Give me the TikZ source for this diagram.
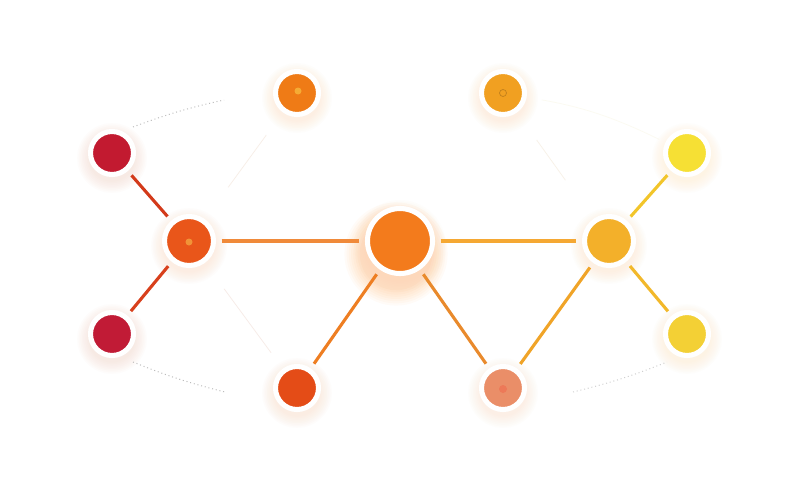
\documentclass[tikz,border=0pt]{standalone}
\usetikzlibrary{calc}
\definecolor{cTL}{HTML}{C21A30}
\definecolor{cBL}{HTML}{C11B36}
\definecolor{cL}{HTML}{E9561A}
\definecolor{cT}{HTML}{EF7B16}
\definecolor{cB}{HTML}{E44C17}
\definecolor{cC}{HTML}{F37B1C}
\definecolor{cTR}{HTML}{F1A021}
\definecolor{cBM}{HTML}{EA8E68}
\definecolor{cR}{HTML}{F3B02A}
\definecolor{cRT}{HTML}{F6E034}
\definecolor{cRB}{HTML}{F3D035}
\definecolor{eTL}{HTML}{D33A1A}
\definecolor{eBL}{HTML}{D8401C}
\definecolor{eLC}{HTML}{F08A3A}
\definecolor{eCR}{HTML}{F5A833}
\definecolor{eCB}{HTML}{EE7E22}
\definecolor{eCM}{HTML}{E98A2C}
\definecolor{eMR}{HTML}{F0A428}
\definecolor{eRT}{HTML}{F2C52A}
\definecolor{eRB}{HTML}{F2B82A}
\pgfdeclarelayer{glow}
\pgfdeclarelayer{edges}
\pgfsetlayers{glow,edges,main}
\newcommand\putnode[5]{%
  \begin{pgfonlayer}{glow}
    \foreach \k in {1,...,8}{\fill[#5!45!orange!30, opacity=0.05] (#2,#3+5) circle ({#4+3+\k*1.6});}
  \end{pgfonlayer}
  \node[hubdot, fill=#5, minimum size={(2*#4+5)*0.7113pt}] (#1) at (#2,#3) {};
}
\tikzset{
  hubdot/.style={circle, inner sep=0pt, draw=white, line width=3.6pt},
  link/.style={line width=2.2pt, shorten <=4pt, shorten >=4pt},
  faint/.style={line width=0.5pt, opacity=0.13},
  dots/.style={line width=0.7pt, dotted, gray!70, opacity=0.75}
}
\begin{document}
\begin{tikzpicture}[x=0.025cm,y=-0.025cm]
\begin{pgfonlayer}{glow}
\fill[white] (0,0) rectangle (800,500);
\foreach \k in {1,...,8}{\fill[orange, opacity=0.03] (396,254) circle ({34+\k*2.2});}
\end{pgfonlayer}
\useasboundingbox (0,0) rectangle (800,500);
% nodes
\putnode{C}{400}{241}{30}{cC}
\putnode{L}{189}{241}{22}{cL}
\putnode{R}{609}{241}{22}{cR}
\putnode{TL}{112}{153}{19}{cTL}
\putnode{BL}{112}{334}{19}{cBL}
\putnode{T}{297}{93}{19}{cT}
\putnode{TR}{503}{93}{19}{cTR}
\putnode{RT}{687}{153}{19}{cRT}
\putnode{RB}{687}{334}{19}{cRB}
\putnode{B}{297}{388}{19}{cB}
\putnode{BM}{503}{388}{19}{cBM}
% inner dots
\fill[cT!75!yellow!85!white] (298,91) circle (3.5);
\fill[cL!75!yellow!85!white] (189,242) circle (3.5);
\draw[cTR!80!black, line width=0.5pt] (503,93) circle (3.5);
\fill[cBM!85!red] (503,389) circle (4);
% edges
\begin{pgfonlayer}{edges}
\draw[link, eTL] (L) -- (TL);
\draw[link, eBL] (L) -- (BL);
\draw[link, eLC] (L) -- (C);
\draw[link, eCR] (C) -- (R);
\draw[link, eCB] (C) -- (B);
\draw[link, eCM] (C) -- (BM);
\draw[link, eMR] (BM) -- (R);
\draw[link, eRT] (R) -- (RT);
\draw[link, eRB] (R) -- (RB);
% faint lines
\draw[faint, cT!60!gray, shorten <=20pt, shorten >=28pt] (T) -- (L);
\draw[faint, cB!60!gray, shorten <=23pt, shorten >=14pt] (L) -- (B);
\draw[faint, cTR!60!gray, shorten <=24pt, shorten >=34pt] (TR) -- (R);
\draw[faint, cRT!70!gray, opacity=0.08, shorten <=11pt, shorten >=5pt] (TR) to[bend left=8] (RT);
% dotted arcs
\coordinate (d1a) at (133,127);
\coordinate (d1b) at (224,100);
\coordinate (d2a) at (133,362);
\coordinate (d2b) at (225,392);
\coordinate (d3a) at (573,392);
\coordinate (d3b) at (667,362);
\draw[dots] (d1a) to[bend left=4] (d1b);
\draw[dots] (d2a) to[bend right=4] (d2b);
\draw[dots, gray!50] (d3a) to[bend right=4] (d3b);
\end{pgfonlayer}
\end{tikzpicture}
\end{document}
